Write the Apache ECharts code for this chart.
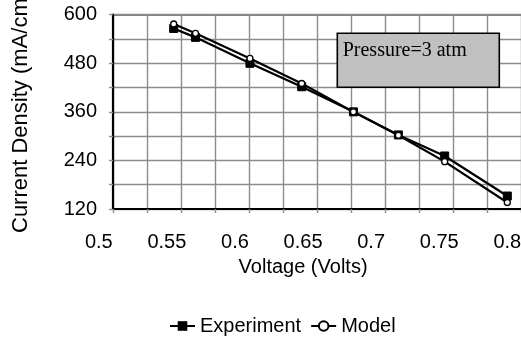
<!DOCTYPE html>
<html>
<head>
<meta charset="utf-8">
<script src="https://cdn.jsdelivr.net/npm/echarts@6/dist/echarts.min.js"></script>
<style>
  html, body { margin: 0; padding: 0; background: #fff; }
  #chart { width: 521px; height: 339px; }
</style>
</head>
<body>
<div id="chart"></div>
<script>
// Polarisation curve data
const voltage = [0.555, 0.571, 0.611, 0.649, 0.687, 0.72, 0.754, 0.8];
const experiment = [566, 544, 480, 422, 360, 303, 251, 152];
const model = [577, 554, 492, 430, 360, 302, 237, 136];
const xTickLabels = [0.5, 0.55, 0.6, 0.65, 0.7, 0.75, 0.8];
const yTickLabels = [120, 240, 360, 480, 600];

const FONT = '"Liberation Sans", Arial, sans-serif';

// horizontal scale shared by both grids (pixels per volt)
const PX_PER_V = 1361.7;
const labelLeft = 98.8;          // pixel where 0.5 V sits
const plotLeft = 113;            // y-axis line
const plotWidth = 430;           // plot runs past the right edge of the canvas
const plotTop = 14.7;
const plotHeight = 194.3;
const xMin = 0.5 + (plotLeft - labelLeft) / PX_PER_V;
const xMax = xMin + plotWidth / PX_PER_V;

const chart = echarts.init(document.getElementById('chart'), null, { renderer: 'canvas' });

const gridLine = { show: true, lineStyle: { color: '#8c8c8c', width: 1.4 } };
const grayTick = { show: true, length: 4, inside: false, lineStyle: { color: '#8c8c8c', width: 1.4 } };

chart.setOption({
  backgroundColor: '#fff',
  animation: false,
  textStyle: { fontFamily: FONT },
  grid: [
    { left: plotLeft, top: plotTop, width: plotWidth, height: plotHeight,
      outerBoundsMode: 'none', containLabel: false,
      show: true, backgroundColor: '#fff', borderColor: '#000', borderWidth: 1.6 },
    { left: labelLeft, top: plotTop, width: 0.3 * PX_PER_V, height: plotHeight,
      outerBoundsMode: 'none', containLabel: false }
  ],
  xAxis: [
    {
      type: 'value', gridIndex: 0, min: xMin, max: xMax, interval: 0.025,
      axisLine: { show: true, onZero: false, lineStyle: { color: '#000', width: 2.2 } },
      axisTick: grayTick,
      axisLabel: { show: false },
      splitLine: gridLine
    },
    {
      type: 'value', gridIndex: 1, min: xTickLabels[0], max: xTickLabels[xTickLabels.length - 1],
      interval: 0.05,
      name: 'Voltage (Volts)', nameLocation: 'middle', nameGap: 48,
      nameTextStyle: { fontSize: 20, color: '#000', fontFamily: FONT },
      axisLine: { show: false }, axisTick: { show: false }, splitLine: { show: false },
      axisLabel: {
        show: true, fontSize: 20, color: '#000', margin: 23, fontFamily: FONT,
        formatter: v => String(+v.toFixed(2))
      }
    }
  ],
  yAxis: [
    {
      type: 'value', gridIndex: 0, min: yTickLabels[0], max: yTickLabels[yTickLabels.length - 1],
      interval: 120,
      axisLine: { show: true, onZero: false, lineStyle: { color: '#000', width: 2.2 } },
      axisTick: grayTick,
      minorTick: { show: true, splitNumber: 2, length: 4, lineStyle: { color: '#8c8c8c', width: 1.4 } },
      minorSplitLine: gridLine,
      splitLine: gridLine,
      axisLabel: { fontSize: 20, color: '#000', margin: 16, fontFamily: FONT }
    },
    { type: 'value', gridIndex: 1, show: false, min: 120, max: 600 }
  ],
  legend: {
    left: 164, top: 311,
    itemWidth: 25, itemHeight: 12, itemGap: 9,
    textStyle: { fontSize: 20, color: '#000', fontFamily: FONT },
    data: ['Experiment', 'Model']
  },
  graphic: [
    {
      type: 'text', x: 32, y: 233, rotation: Math.PI / 2,
      style: { text: 'Current Density (mA/cm²)', fontSize: 22, fontFamily: FONT,
               fill: '#000', align: 'left', verticalAlign: 'bottom' }
    },
    {
      type: 'rect', shape: { x: 337.3, y: 33.3, width: 162, height: 54 },
      style: { fill: '#c0c0c0', stroke: '#000', lineWidth: 1.6 }, z: 10
    },
    {
      type: 'text', x: 342.7, y: 50.5,
      style: { text: 'Pressure=3 atm', fontSize: 20, fontFamily: '"Liberation Serif", "Times New Roman", serif',
               fill: '#000', align: 'left', verticalAlign: 'middle' }, z: 11
    }
  ],
  series: [
    {
      name: 'Experiment', type: 'line', xAxisIndex: 0, yAxisIndex: 0,
      data: voltage.map((v, i) => [v, experiment[i]]),
      symbol: 'rect', symbolSize: 8,
      lineStyle: { color: '#000', width: 2.2 },
      itemStyle: { color: '#000', borderColor: '#000' },
      z: 3
    },
    {
      name: 'Model', type: 'line', xAxisIndex: 0, yAxisIndex: 0,
      data: voltage.map((v, i) => [v, model[i]]),
      symbol: 'circle', symbolSize: 6,
      lineStyle: { color: '#000', width: 2.2 },
      itemStyle: { color: '#fff', borderColor: '#000', borderWidth: 1.3 },
      z: 4
    }
  ]
});
</script>
</body>
</html>
